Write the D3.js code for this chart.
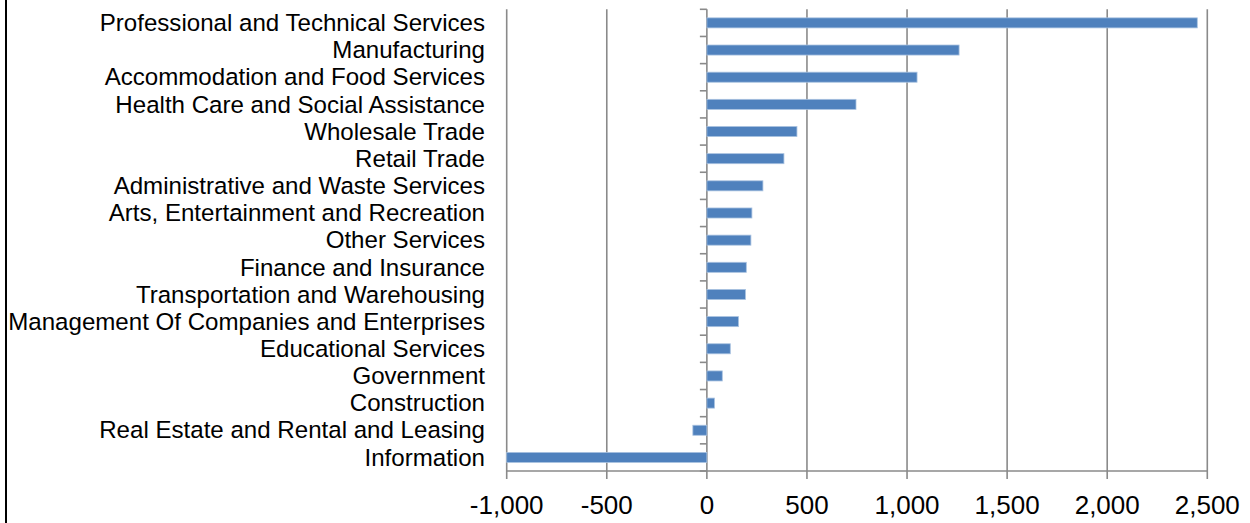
<!DOCTYPE html>
<html>
<head>
<meta charset="utf-8">
<script src="https://cdn.jsdelivr.net/npm/d3@7"></script>
<style>
html,body{margin:0;padding:0;background:#fff;}
svg{display:block;}
text{font-family:"Liberation Sans",Arial,sans-serif;fill:#000;}
</style>
</head>
<body>
<svg id="chart" width="1250" height="523"></svg>
<script>
const categories = [
  "Professional and Technical Services",
  "Manufacturing",
  "Accommodation and Food Services",
  "Health Care and Social Assistance",
  "Wholesale Trade",
  "Retail Trade",
  "Administrative and Waste Services",
  "Arts, Entertainment and Recreation",
  "Other Services",
  "Finance and Insurance",
  "Transportation and Warehousing",
  "Management Of Companies and Enterprises",
  "Educational Services",
  "Government",
  "Construction",
  "Real Estate and Rental and Leasing",
  "Information"
];
const values = [2450, 1260, 1050, 745, 450, 385, 280, 225, 220, 197, 193, 158, 117, 77, 38, -70, -1000];
const xTicks = [-1000, -500, 0, 500, 1000, 1500, 2000, 2500];

(function () {
const svg = d3.select("#chart");
const pLeft = 506.7, pRight = 1207.3, pTop = 9.3, pBottom = 471;

const x = d3.scaleLinear().domain([-1000, 2500]).range([pLeft, pRight]);
const y = d3.scaleBand().domain(categories).range([pTop, pBottom])
  .paddingInner(0.63).paddingOuter(0.315);
const slot = d3.scaleBand().domain(categories).range([pTop, pBottom]).padding(0);

// left border
svg.append("line").attr("x1", 6).attr("x2", 6).attr("y1", 0).attr("y2", 523)
  .attr("stroke", "#000").attr("stroke-width", 2);

// gridlines
svg.append("g").selectAll("line").data(xTicks).join("line")
  .attr("x1", d => x(d)).attr("x2", d => x(d))
  .attr("y1", pTop).attr("y2", pBottom + 8)
  .attr("stroke", "#8a8a8a").attr("stroke-width", 1.6);

// bottom axis line
svg.append("line").attr("x1", pLeft).attr("x2", pRight).attr("y1", pBottom).attr("y2", pBottom)
  .attr("stroke", "#8a8a8a").attr("stroke-width", 1.6);

// category ticks on the zero axis
const tickYs = categories.map(c => slot(c)).concat([pBottom]);
svg.append("g").selectAll("line").data(tickYs).join("line")
  .attr("x1", x(0) - 7).attr("x2", x(0))
  .attr("y1", d => d).attr("y2", d => d)
  .attr("stroke", "#8a8a8a").attr("stroke-width", 1.6);

// bars
svg.append("g").selectAll("rect").data(values).join("rect")
  .attr("x", d => x(Math.min(0, d)))
  .attr("width", d => Math.abs(x(d) - x(0)))
  .attr("y", (d, i) => y(categories[i]))
  .attr("height", y.bandwidth())
  .attr("fill", "#4F81BD")
  .attr("stroke", "#a9c2e0").attr("stroke-width", 0.8);

// category labels
svg.append("g").selectAll("text").data(categories).join("text")
  .attr("x", 485)
  .attr("y", d => y(d) + y.bandwidth() / 2)
  .attr("dy", "0.34em")
  .attr("text-anchor", "end")
  .style("font-size", "24.1px")
  .text(d => d);

// x tick labels
const fmt = d3.format(",");
svg.append("g").selectAll("text").data(xTicks).join("text")
  .attr("x", d => x(d))
  .attr("y", 514)
  .attr("text-anchor", "middle")
  .style("font-size", "26px")
  .text(d => fmt(d).replace("\u2212", "-"));
})();
</script>
</body>
</html>
